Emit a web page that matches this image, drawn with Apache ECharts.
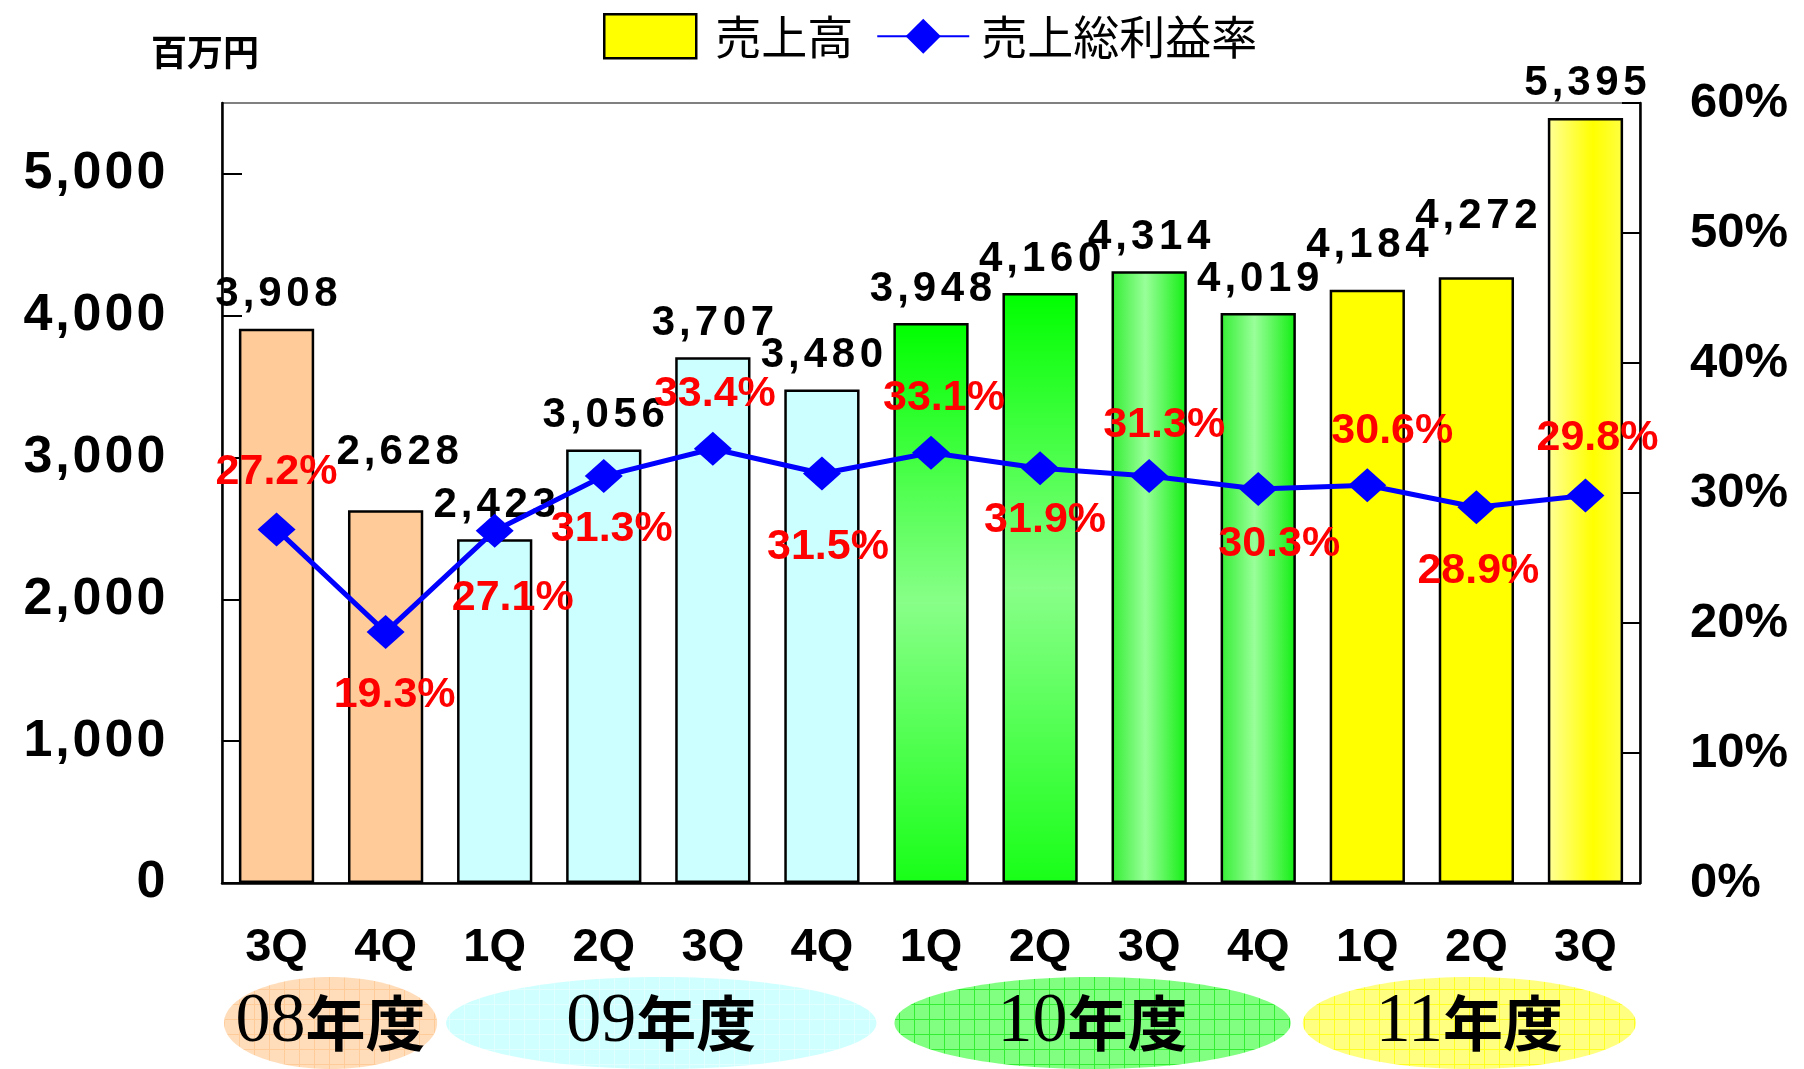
<!DOCTYPE html>
<html><head><meta charset="utf-8">
<script src="https://cdn.jsdelivr.net/npm/echarts@6/dist/echarts.min.js"></script>
<style>html,body{margin:0;padding:0;background:#fff}#c{width:1804px;height:1069px}</style>
</head><body><div id="c"></div>
<script>
// ---- data ----
const categories = ['3Q','4Q','1Q','2Q','3Q','4Q','1Q','2Q','3Q','4Q','1Q','2Q','3Q'];
const sales = [3908,2628,2423,3056,3707,3480,3948,4160,4314,4019,4184,4272,5395];
const grossMargin = [27.2,19.3,27.1,31.3,33.4,31.5,33.1,31.9,31.3,30.3,30.6,28.9,29.8];
const yearNumbers = ['08','09','10','11'];
const yearSuffix = '年度';
const yearStart = [0,2,6,10];
const yearEnd = [1,5,9,12];
const seriesNames = ['売上高','売上総利益率'];
const unitLabel = '百万円';

// ---- styles / layout ----
const SANS = "'Liberation Sans', Arial, sans-serif";
const JP = "'Noto Sans CJK JP', sans-serif";
const vGreen = {type:'linear',x:0,y:0,x2:0,y2:1,colorStops:[{offset:0,color:'#00FF00'},{offset:0.5,color:'#88FF88'},{offset:1,color:'#18FF18'}]};
const hGreen = {type:'linear',x:0,y:0,x2:1,y2:0,colorStops:[{offset:0,color:'#33EE33'},{offset:0.45,color:'#99FF99'},{offset:1,color:'#11EE11'}]};
const hYellow = {type:'linear',x:0,y:0,x2:1,y2:0,colorStops:[{offset:0,color:'#FFFF99'},{offset:0.6,color:'#FFFF00'},{offset:1,color:'#FFFF44'}]};
const barFills = ['#FFCC99','#FFCC99','#CCFFFF','#CCFFFF','#CCFFFF','#CCFFFF',vGreen,vGreen,hGreen,hGreen,'#FFFF00','#FFFF00',hYellow];
const barLabelOffsets = [[0,0],[12,-24],[0,0],[0,0],[0,0],[0,0],[0,0],[0,0],[0,0],[0,0],[0,-10],[0,-27],[0,0]];
const pctLabelOffsets = [[0,-57],[9,63],[18,67],[8,53],[2,-55],[6,74],[13,-55],[5,52],[15,-51],[21,55],[25,-54],[2,64],[12,-57]];
const ellipseInsets = [[2,3],[6,0],[18,22],[-10,4]];
const ellipseColors = [['#FFDDBB','#FFCC99'],['#CFFFFF','#E2FFFF'],['#80FF80','#33EE33'],['#FFFF80','#FFFF22']];

function fmt(v){ return String(v).replace(/\B(?=(\d{3})+(?!\d))/g, ','); }
function spaced(str, p){
  return str.split('').map(ch => '{' + (/[0-9]/.test(ch) ? p+'d' : p+'p') + '|' + ch + '}').join('');
}
function richSet(p, size, dw, pw){
  const base = {fontSize:size, fontWeight:'bold', fontFamily:SANS, color:'#000', align:'center', lineHeight:size};
  const r = {};
  r[p+'d'] = Object.assign({width:dw}, base);
  r[p+'p'] = Object.assign({width:pw}, base);
  return r;
}
function gridPattern(bg, line){
  const c = document.createElement('canvas'); c.width = 15; c.height = 15;
  const g = c.getContext('2d');
  g.fillStyle = bg; g.fillRect(0,0,15,15);
  g.fillStyle = line; g.fillRect(14,0,1,15); g.fillRect(0,14,15,1);
  return {image:c, repeat:'repeat'};
}

const chart = echarts.init(document.getElementById('c'), null, {renderer:'canvas'});
const option = {
  animation:false,
  backgroundColor:'#fff',
  title:{text:unitLabel, left:146, top:29, textStyle:{fontSize:36, fontWeight:'bold', fontFamily:JP, color:'#000'}},
  legend:{
    left:598, top:8, itemWidth:92, itemHeight:44, itemGap:23,
    textStyle:{fontSize:46, fontFamily:JP, color:'#000'},
    data:[
      {name:seriesNames[0], icon:'rect', itemStyle:{color:'#FFFF00', borderColor:'#000', borderWidth:2.5}, textStyle:{padding:[0,0,0,14]}},
      {name:seriesNames[1], textStyle:{padding:[0,0,0,7]}}
    ]
  },
  grid:{left:222, right:164, top:103, bottom:186, show:true, borderColor:'#808080', borderWidth:2, containLabel:false},
  xAxis:{
    type:'category', data:categories,
    axisLine:{lineStyle:{color:'#000', width:2.5}},
    axisTick:{inside:true, length:14, lineStyle:{color:'#000', width:2}},
    axisLabel:{margin:42, fontSize:47, fontWeight:'bold', fontFamily:SANS, color:'#000', interval:0},
    splitLine:{show:false}
  },
  yAxis:[
    {type:'value', min:0, max:5500, interval:1000,
     axisLine:{show:true, lineStyle:{color:'#000', width:2.5}},
     axisTick:{show:true, inside:true, length:20, lineStyle:{color:'#000', width:2}},
     axisLabel:{margin:55, showMaxLabel:false, formatter:v => spaced(fmt(v),'a'), rich:richSet('a',52,32,17)},
     splitLine:{show:false}},
    {type:'value', min:0, max:60, interval:10, position:'right',
     axisLine:{show:true, lineStyle:{color:'#000', width:2.5}},
     axisTick:{show:true, inside:true, length:18, lineStyle:{color:'#000', width:2}},
     axisLabel:{margin:50, formatter:'{value}%', fontSize:49, fontWeight:'bold', fontFamily:SANS, color:'#000'},
     splitLine:{show:false}}
  ],
  series:[
    {name:seriesNames[0], type:'bar', yAxisIndex:0, barWidth:'69%',
     itemStyle:{color:'#FFFF00', borderColor:'#000', borderWidth:2.5},
     label:{show:true, position:'top', distance:13, formatter:p => spaced(fmt(p.value),'b'), rich:richSet('b',42,28,15)},
     data:sales.map((v,i) => ({value:v, itemStyle:{color:barFills[i]}, label:{offset:barLabelOffsets[i]}})),
     z:2},
    {name:seriesNames[1], type:'line', yAxisIndex:1,
     symbol:'diamond', symbolSize:[38,34],
     lineStyle:{color:'#0000FF', width:5}, itemStyle:{color:'#0000FF'},
     label:{show:true, position:'inside', formatter:p => p.value.toFixed(1)+'%', fontSize:43, fontWeight:'bold', fontFamily:SANS, color:'#FF0000'},
     data:grossMargin.map((v,i) => ({value:v, label:{offset:pctLabelOffsets[i]}})),
     z:3}
  ]
};
chart.setOption(option);

// year-group ellipses beneath the category axis
const x0 = chart.convertToPixel({xAxisIndex:0}, 0);
const x1 = chart.convertToPixel({xAxisIndex:0}, 1);
const catW = x1 - x0;
const axisY = chart.convertToPixel({yAxisIndex:0}, 0);
const cy = axisY + 140, ry = 46;
const graphics = [];
yearNumbers.forEach((y, k) => {
  const left = chart.convertToPixel({xAxisIndex:0}, yearStart[k]) - catW/2 + ellipseInsets[k][0];
  const right = chart.convertToPixel({xAxisIndex:0}, yearEnd[k]) + catW/2 - ellipseInsets[k][1];
  const cx = (left + right)/2, rx = (right - left)/2;
  graphics.push({type:'ellipse', shape:{cx:cx, cy:cy, rx:rx, ry:ry}, style:{fill:gridPattern(ellipseColors[k][0], ellipseColors[k][1])}, z:0, silent:true});
  graphics.push({type:'text', x:cx, y:cy, z:1, silent:true,
    style:{text:'{n|' + y + '}{k|' + yearSuffix + '}', align:'center', verticalAlign:'middle',
      rich:{n:{fontFamily:"'Liberation Serif', serif", fontSize:70, color:'#000'},
            k:{fontFamily:JP, fontSize:60, fontWeight:'bold', color:'#000'}}}});
});
chart.setOption({graphic:graphics});
</script>
</body></html>
